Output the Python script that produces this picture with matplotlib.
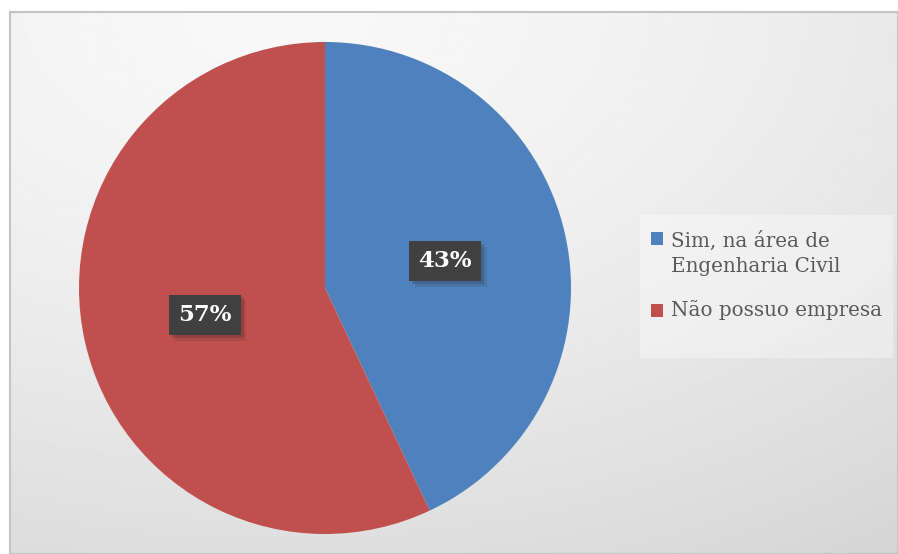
import matplotlib.pyplot as plt
import matplotlib.patheffects as pe
from matplotlib.patches import Rectangle
import numpy as np

labels = ["Sim, na área de\nEngenharia Civil", "Não possuo empresa"]
values = [43, 57]
colors = ["#4f81bd", "#c0504d"]

W, H = 898, 554
fig = plt.figure(figsize=(W / 100, H / 100), dpi=100)

# background panel with soft gradient
bg = fig.add_axes([10 / W, 0, (W - 10) / W, (H - 12) / H])
gx, gy = np.meshgrid(np.linspace(0, 1, 300), np.linspace(0, 1, 200))
d = np.sqrt((gx - 0.3) ** 2 + gy ** 2)
shade = (248 - 26 * d ** 1.5) / 255
bg.imshow(shade, cmap="gray", vmin=0, vmax=1, aspect="auto",
          extent=(0, 1, 1, 0))
bg.set_xticks([])
bg.set_yticks([])
for s in bg.spines.values():
    s.set_color("#c4c4c4")
    s.set_linewidth(1.5)

# legend panel
fig.patches.append(Rectangle((640 / W, 1 - 358 / H), 253 / W, 143 / H,
                             transform=fig.transFigure, facecolor="white",
                             alpha=0.35, edgecolor="none", zorder=1))

cx, cy, r = 325, 288, 246
ax = fig.add_axes([(cx - r) / W, (H - cy - r) / H, 2 * r / W, 2 * r / H])
wedges, _, autotexts = ax.pie(values, colors=colors, startangle=90,
                              counterclock=False, autopct="%.0f%%",
                              pctdistance=0.5,
                              wedgeprops=dict(linewidth=0))
ax.set_xlim(-1, 1)
ax.set_ylim(-1, 1)

for t in autotexts:
    t.set_color("white")
    t.set_fontweight("bold")
    t.set_fontsize(16.5)
    t.set_family("DejaVu Serif")
    t.set_bbox(dict(boxstyle="square,pad=0.4", facecolor="#404040",
                    edgecolor="none"))
    t.get_bbox_patch().set_path_effects(
        [pe.SimplePatchShadow(offset=(4, -4), alpha=0.12,
                              shadow_rgbFace="#202020"),
         pe.SimplePatchShadow(offset=(2, -2), alpha=0.2,
                              shadow_rgbFace="#202020"),
         pe.Normal()])

# legend, drawn by hand so the marker sits beside the first line
baselines = [244, 316]
pitch = 28
for lab, col, yb in zip(labels, colors, baselines):
    fig.patches.append(Rectangle((651 / W, 1 - (yb + 1) / H), 12 / W, 13 / H,
                                 transform=fig.transFigure, facecolor=col,
                                 edgecolor="none", zorder=3))
    # va="baseline" pins the last line, so push down by the extra lines
    y_last = yb + pitch * lab.count("\n")
    fig.text(671 / W, 1 - y_last / H, lab, ha="left", va="baseline",
             color="#595959", family="DejaVu Serif", fontsize=14.3,
             linespacing=1.4)

fig.savefig("out.png", dpi=100)
